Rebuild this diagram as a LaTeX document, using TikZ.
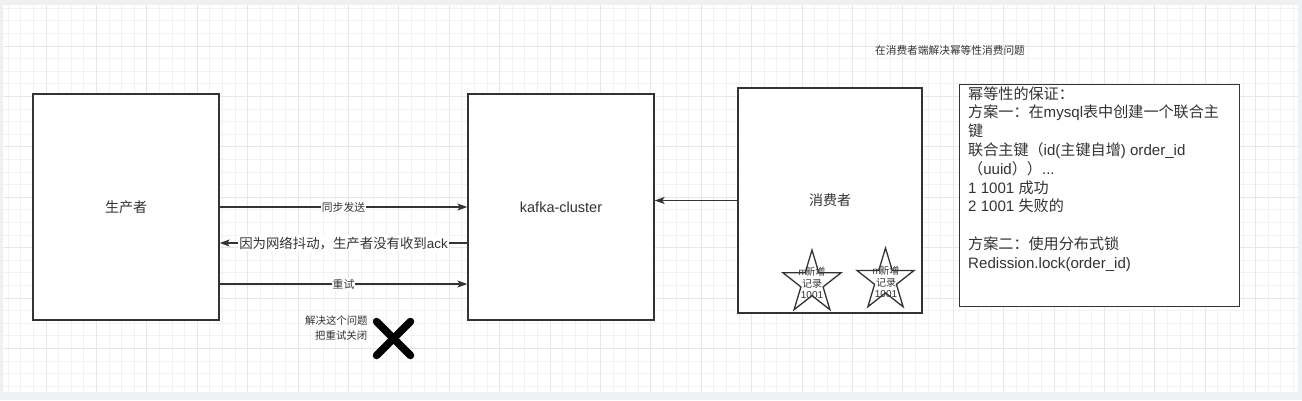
\documentclass[tikz,border=0pt]{standalone}
\usepackage{fontspec}
\setmainfont{Noto Sans CJK SC}
\newfontfamily\lat{Liberation Sans}
\usetikzlibrary{arrows.meta,calc}
\definecolor{ln}{HTML}{333333}
\definecolor{txt}{HTML}{333333}
\definecolor{framec}{HTML}{EEF0F2}
\definecolor{gmin}{HTML}{F2F2F2}
\definecolor{gmaj}{HTML}{E7E7E7}
\begin{document}
\begin{tikzpicture}[x=1pt,y=-1pt,
  box/.style={draw=ln, line width=1.3pt, fill=white, inner sep=0pt, text=txt,
    font=\fontsize{14}{16.8}\selectfont},
  arr/.style={draw=ln, line width=1.3pt, -{Stealth[length=10pt,width=7pt,inset=2.5pt]}},
  lbl/.style={fill=white, inner sep=1pt, text=txt, font=\fontsize{10.8}{13}\selectfont},
  lblbig/.style={fill=white, inner sep=1.5pt, text=txt, font=\fontsize{13.4}{16}\selectfont},
  starline/.style={draw=ln, line width=1.3pt, fill=white, line join=miter},
  startext/.style={align=center, inner sep=0pt, text=txt, font=\fontsize{10}{11.3}\selectfont},
  small/.style={inner sep=0pt, text=txt, font=\fontsize{10.7}{14.3}\selectfont}]
\useasboundingbox (0,0) rectangle (1302,400);
% canvas
\fill[framec] (0,0) rectangle (1302,400);
\fill[white] (3,5) rectangle (1298,392);
\begin{scope}
  \clip (3,5) rectangle (1298,392);
  \foreach \k in {-3,...,99} \draw[gmin, line width=1pt] ({46+12.6*\k},5) -- ({46+12.6*\k},392);
  \foreach \k in {-3,...,27} \draw[gmin, line width=1pt] (3,{46+12.6*\k}) -- (1298,{46+12.6*\k});
  \foreach \k in {0,...,24} \draw[gmaj, line width=1pt] ({46+50.4*\k},5) -- ({46+50.4*\k},392);
  \foreach \k in {0,...,6} \draw[gmaj, line width=1pt] (3,{46+50.4*\k}) -- (1298,{46+50.4*\k});
\end{scope}
% title
\node[small] (title) at (950,50.7) {在消费者端解决幂等性消费问题};
% boxes
\node[box, minimum width=186, minimum height=226] (prod) at (126,207) {生产者};
\node[box, minimum width=186, minimum height=226, font=\lat\fontsize{14.5}{17}\selectfont] (kafka) at (561,207) {kafka-cluster};
\node[box, minimum width=184, minimum height=225] (cons) at (830,200.5) {消费者};
\node[box, minimum width=280, minimum height=222, anchor=north west] (tb) at (959,84) {};
\node[anchor=base west, inner sep=0pt, text=txt, font=\fontsize{15.1}{18.8}\selectfont] (tbt) at (968,99)
  {\parbox[t]{268pt}{\fontsize{15.1}{18.8}\selectfont\raggedright
  幂等性的保证：\\
  方案一：在{\lat mysql}表中创建一个联合主\\
  键\\
  联合主键（{\lat id(}主键自增{\lat ) order\_id}\\
  （{\lat uuid}））{\lat ...}\\
  {\lat 1 1001 }成功\\
  {\lat 2 1001 }失败的\\
  \mbox{}\\
  方案二：使用分布式锁\\
  {\lat Redission.lock(order\_id)}}};
% arrows
\draw[arr] (prod.east) -- node[lbl] (l1) {同步发送} (kafka.west);
\draw[arr] ([yshift=-36pt]kafka.west) -- node[lblbig] (l2) {因为网络抖动，生产者没有收到{\lat ack}} ([yshift=-36pt]prod.east);
\draw[arr] ([yshift=-77pt]prod.east) -- node[lbl] (l3) {重试} ([yshift=-77pt]kafka.west);
\draw[arr] (cons.west) -- (kafka.east |- cons.west);
% fix note and cross
\node[small, align=left, anchor=west, font=\fontsize{10.4}{14.3}\selectfont] (fix) at (305,328)
  {解决这个问题\\\hspace*{10pt}把重试关闭};
\draw[black, line width=7.5pt, line cap=round] (376.5,321.5) -- (410.5,355.5);
\draw[black, line width=7.5pt, line cap=round] (410.5,321.5) -- (376.5,355.5);
% stars
\draw[starline] ([shift={(-90:30.5 and 33)}]812,283)
  \foreach \i [evaluate=\i as \rr using {mod(\i,2)==0 ? 1 : 0.382}, evaluate=\i as \aa using {-90+36*\i}] in {1,...,9}
  { -- ([shift={(\aa:{30.5*\rr} and {33*\rr})}]812,283) } -- cycle;
\node[startext] (s1) at (812,283) {{\lat m}\kern-1.5pt新增\\记录\\{\lat 1001}};
\draw[starline] ([shift={(-90:30 and 32.5)}]885.5,280.5)
  \foreach \i [evaluate=\i as \rr using {mod(\i,2)==0 ? 1 : 0.382}, evaluate=\i as \aa using {-90+36*\i}] in {1,...,9}
  { -- ([shift={(\aa:{30*\rr} and {32.5*\rr})}]885.5,280.5) } -- cycle;
\node[startext] (s2) at (886,282) {{\lat m}\kern-1.5pt新增\\记录\\{\lat 1001}};
\end{tikzpicture}
\end{document}
